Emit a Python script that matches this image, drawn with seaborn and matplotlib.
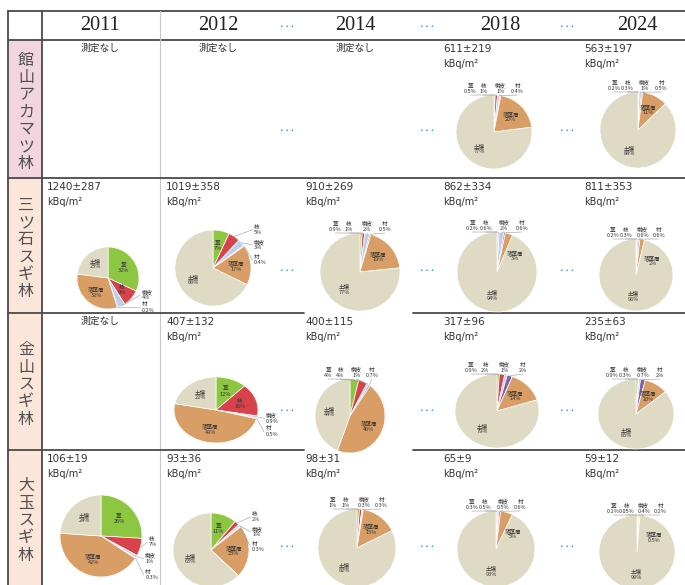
import numpy as np
import matplotlib
matplotlib.use("Agg")
import matplotlib.pyplot as plt
import seaborn as sns

years = ["2011", "2012", "2014", "2018", "2024"]
forests = ["館山アカマツ林", "三ツ石スギ林", "金山スギ林", "大玉スギ林"]
parts = ["葉", "枝", "樹皮", "材", "落葉層", "土壌"]

# 部位別の割合 (%)、None は測定なし
tateyama = [None, None, None, [0.5, 1, 1, 0.4, 20, 77], [0.2, 0.3, 1, 0.5, 11, 88]]
mitsuishi = [[32, 9, 4, 0.2, 32, 23], [7, 5, 3, 0.4, 17, 68], [0.9, 1, 2, 0.5, 19, 77],
             [0.2, 0.6, 2, 0.6, 3, 94], [0.2, 0.3, 0.6, 0.6, 2, 96]]
kanayama = [None, [12, 16, 0.9, 0.5, 49, 22], [4, 4, 1, 0.7, 46, 44],
            [0.9, 2, 1, 2, 14, 79], [0.9, 0.3, 0.7, 2, 10, 85]]
otama = [[26, 7, 1, 0.3, 42, 24], [11, 2, 1, 0.3, 23, 63], [1, 1, 0.3, 0.3, 15, 82],
         [0.3, 0.5, 0.5, 0.6, 5, 93], [0.1, 0.05, 0.4, 0.2, 0.5, 99]]

# 総蓄積量 kBq/m2 (平均, 標準偏差)
tateyama_mean = [None, None, None, 611, 563]
tateyama_sd = [None, None, None, 219, 197]
mitsuishi_mean = [1240, 1019, 910, 862, 811]
mitsuishi_sd = [287, 358, 269, 334, 353]
kanayama_mean = [None, 407, 400, 317, 235]
kanayama_sd = [None, 132, 115, 96, 63]
otama_mean = [106, 93, 98, 65, 59]
otama_sd = [19, 36, 31, 9, 12]

shares = [tateyama, mitsuishi, kanayama, otama]
means = [tateyama_mean, mitsuishi_mean, kanayama_mean, otama_mean]
sds = [tateyama_sd, mitsuishi_sd, kanayama_sd, otama_sd]

sns.set_style("white")
colors = sns.color_palette(["#8dc641", "#d8434b", "#bcd0ea", "#7d63a8", "#d99e66", "#dedac3"])
JP = ["Noto Sans CJK JP", "DejaVu Sans"]
NUM = ["Liberation Sans Narrow", "DejaVu Sans"]

W, H = 685, 585
fig = plt.figure(figsize=(W / 100, H / 100), dpi=100)
bg = fig.add_axes([0, 0, 1, 1])
bg.set_xlim(0, W)
bg.set_ylim(H, 0)
bg.axis("off")

# layout (pixels)
x_left, x_label, x_end = 8, 42, 685
y_top, y_head = 11, 40
row_top = [40, 178, 313, 450]
row_bot = [178, 313, 450, 585]
col_center = [100, 218, 355, 500, 637]
col_text = [47, 166, 305, 443, 584]
dots_x = [287, 427, 567]
dots_y = [130, 271, 410, 546]
pie_box = {
    (0, 3): (494, 132, 38, 37), (0, 4): (638, 130, 38, 38),
    (1, 0): (108, 278, 31, 31), (1, 1): (213, 268, 38, 38), (1, 2): (360, 272, 40, 39),
    (1, 3): (497, 272, 40, 40), (1, 4): (636, 275, 37, 36),
    (2, 1): (216, 410, 42, 33), (2, 2): (350, 416, 35, 37), (2, 3): (497, 411, 42, 37),
    (2, 4): (636, 414, 38, 35),
    (3, 0): (101, 536, 41, 41), (3, 1): (211, 550, 38, 37), (3, 2): (357, 548, 39, 39),
    (3, 3): (496, 549, 39, 38), (3, 4): (637, 552, 38, 37),
}

# left column backgrounds
label_bg = ["#f2d5df", "#fce5d9", "#fce5d9", "#fce5d9"]
for r in range(4):
    bg.add_patch(plt.Rectangle((x_left, row_top[r]), x_label - x_left, row_bot[r] - row_top[r],
                               facecolor=label_bg[r], edgecolor="none", zorder=0))
    bg.text((x_left + x_label) / 2 + 1, (row_top[r] + row_bot[r]) / 2 + 3, "\n".join(forests[r]),
            ha="center", va="center", fontsize=11.5, color="#505050", family=JP, linespacing=1.02)

# grid lines
dark = "#4a4a4a"
bg.plot([x_left, x_end], [y_top, y_top], color=dark, lw=1.3)
bg.plot([x_left, x_end], [y_head, y_head], color=dark, lw=1.3)
bg.plot([x_left, x_left], [y_top, H], color=dark, lw=1.3)
bg.plot([x_label, x_label], [y_top, H], color=dark, lw=1.3)
bg.plot([160, 160], [y_top, H], color="#c8c8c8", lw=0.8)
bg.plot([x_left, x_end], [row_bot[0], row_bot[0]], color=dark, lw=1.3)
for r in (1, 2):
    yy = row_bot[r]
    bg.plot([x_left, 304], [yy, yy], color=dark, lw=1.3)
    bg.plot([413, x_end], [yy, yy], color=dark, lw=1.3)

# header
for c, yr in enumerate(years):
    bg.text(col_center[c], 26, yr, ha="center", va="center", fontsize=14.5,
            family=["Liberation Serif", "DejaVu Serif"], color="#222222")
for yy in [26] + dots_y:
    for xx in dots_x:
        bg.text(xx, yy, "• • •", ha="center", va="center", fontsize=4.2, color="#3a87c8")


def fmt(v):
    return f"{v:g}%"


def draw_pie(vals, box):
    cx, cy, rx, ry = box
    ax = fig.add_axes([(cx - rx) / W, (H - cy - ry) / H, 2 * rx / W, 2 * ry / H])
    wedges, _ = ax.pie(vals, colors=colors, startangle=90, counterclock=False,
                       wedgeprops=dict(edgecolor="white", linewidth=0.5))
    for w in wedges:
        w.set_clip_on(False)
    ax.set_xlim(-1, 1)
    ax.set_ylim(-1, 1)
    ax.set_aspect("auto")
    ax.axis("off")

    total = sum(vals)
    cum = np.cumsum([0] + list(vals))
    mids = [360 * (cum[i] + vals[i] / 2) / total for i in range(len(vals))]
    top_mode = sum(vals[:4]) < 12
    tkw = dict(fontsize=4, family=JP, color="#333333", linespacing=1.05)
    side = []
    for i, v in enumerate(vals):
        th = mids[i]
        if i == 4 and v < 8:
            th = max(th, 48)
        inside = i >= 4 or v >= 9 or (i == 0 and v >= 7)
        if inside:
            rr = 0.6
            ax.text(rr * np.sin(np.radians(th)), rr * np.cos(np.radians(th)),
                    f"{parts[i]}\n{fmt(v)}", ha="center", va="center", **tkw)
            continue
        ex, ey = np.sin(np.radians(th)), np.cos(np.radians(th))
        if top_mode:
            slot = [-0.62, -0.28, 0.18, 0.62][i]
            ax.text(slot, 1.03, f"{parts[i]}\n{fmt(v)}", ha="center", va="bottom", clip_on=False, **tkw)
            ax.plot([slot, ex], [1.0, ey], color="#9a9a9a", lw=0.4, clip_on=False)
        else:
            side.append([i, 1.22 * ex, 1.22 * ey, ex, ey])
    side.sort(key=lambda s: -s[2])
    for k in range(1, len(side)):
        if side[k][2] > side[k - 1][2] - 0.4:
            side[k][2] = side[k - 1][2] - 0.4
    if side and side[-1][2] < -0.95:
        shift = -0.95 - side[-1][2]
        for s in side:
            s[2] += shift
    for i, lx, ly, ex, ey in side:
        lx = max(lx, 1.08) if lx > 0 else lx
        ax.text(lx, ly, f"{parts[i]}\n{fmt(vals[i])}", ha="left" if lx > 0 else "right",
                va="center", clip_on=False, **tkw)
        ax.plot([ex, lx - 0.04], [ey, ly], color="#9a9a9a", lw=0.4, clip_on=False)


for r in range(4):
    ytxt = row_top[r] + 9
    for c in range(5):
        vals = shares[r][c]
        if vals is None:
            bg.text(col_center[c], ytxt - 1, "測定なし", ha="center", va="center",
                    fontsize=7, family=JP, color="#333333")
            continue
        bg.text(col_text[c], ytxt, f"{means[r][c]}±{sds[r][c]}", ha="left", va="center",
                fontsize=7.5, family=NUM, color="#333333")
        bg.text(col_text[c], ytxt + 15, "kBq/m²", ha="left", va="center",
                fontsize=7, family=NUM, color="#333333")
        draw_pie(vals, pie_box[(r, c)])

fig.savefig("out.png", dpi=100)
